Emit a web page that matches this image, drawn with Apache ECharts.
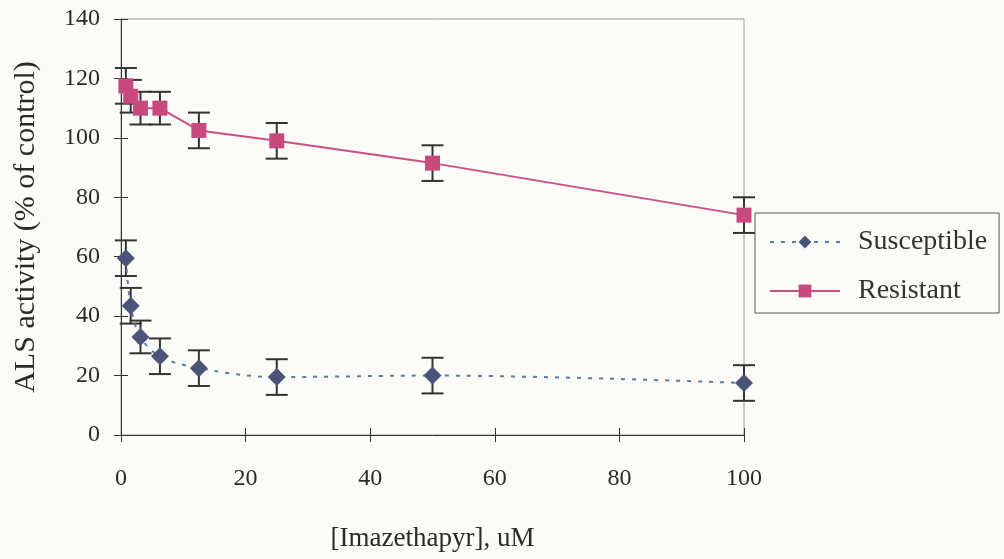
<!DOCTYPE html>
<html lang="en">
<head>
<meta charset="UTF-8">
<title>ALS activity</title>
<style>
	html, body { margin: 0; padding: 0; background: #fbfbf8; }
	#main { width: 1004px; height: 559px; }
</style>
</head>
<body>
<div id="main"></div>
<script src="https://cdn.jsdelivr.net/npm/echarts@6/dist/echarts.min.js"></script>
<script>
	// doses (uM)
	var doses = [0.78, 1.56, 3.125, 6.25, 12.5, 25, 50, 100];
	// % of control
	var susceptible = [59.5, 43.5, 33, 26.5, 22.5, 19.5, 20, 17.5];
	var susceptibleErr = [6, 6, 5.5, 6, 6, 6, 6, 6];
	var resistant = [117.5, 114, 110, 110, 102.5, 99, 91.5, 74];
	var resistantErr = [6, 5.5, 5.5, 5.5, 6, 6, 6, 6];
	var xTicks = [0, 20, 40, 60, 80, 100];
	var yTicks = [0, 20, 40, 60, 80, 100, 120, 140];

	var font = 'Liberation Serif';
	var myChart = echarts.init(document.getElementById('main'));

	function pairs(ys) {
		return doses.map(function (d, i) { return [d, ys[i]]; });
	}
	function errData(ys, es) {
		return doses.map(function (d, i) { return [d, ys[i] - es[i], ys[i] + es[i]]; });
	}
	// whisker with caps
	function renderErr(params, api) {
		var lo = api.coord([api.value(0), api.value(1)]);
		var hi = api.coord([api.value(0), api.value(2)]);
		var w = 11;
		var st = { stroke: '#333', lineWidth: 2 };
		return {
			type: 'group',
			children: [
				{ type: 'line', shape: { x1: lo[0], y1: lo[1], x2: hi[0], y2: hi[1] }, style: st },
				{ type: 'line', shape: { x1: lo[0] - w, y1: lo[1], x2: lo[0] + w, y2: lo[1] }, style: st },
				{ type: 'line', shape: { x1: hi[0] - w, y1: hi[1], x2: hi[0] + w, y2: hi[1] }, style: st }
			]
		};
	}

	var axisLabel = { fontFamily: font, fontSize: 24, color: '#2a2a2a' };
	var option = {
		backgroundColor: '#fbfbf8',
		animation: false,
		grid: {
			left: 121, right: 260, top: 19, bottom: 124,
			outerBoundsMode: 'none',
			show: true, borderColor: '#9a9a9a', borderWidth: 1
		},
		legend: {
			orient: 'vertical',
			left: 755, top: 213,
			padding: [15, 12, 8, 14],
			itemWidth: 70, itemHeight: 16,
			itemGap: 21,
			borderColor: '#555', borderWidth: 1,
			backgroundColor: '#fbfbf8',
			textStyle: { fontFamily: font, fontSize: 28, color: '#333', padding: [0, 0, 0, 13] },
			data: ['Susceptible', 'Resistant']
		},
		xAxis: [{
			type: 'value',
			min: xTicks[0], max: xTicks[xTicks.length - 1], interval: 20,
			name: '[Imazethapyr], uM',
			nameLocation: 'middle', nameGap: 90,
			nameTextStyle: { fontFamily: font, fontSize: 27, color: '#2a2a2a' },
			axisLine: { onZero: false, lineStyle: { color: '#333', width: 1 } },
			axisTick: { length: 7, lineStyle: { color: '#333' } },
			axisLabel: Object.assign({ margin: 32 }, axisLabel),
			splitLine: { show: false }
		}, {
			type: 'value', position: 'bottom',
			min: 0, max: 100, interval: 20,
			axisLine: { show: false },
			axisTick: { inside: true, length: 7, lineStyle: { color: '#333' } },
			axisLabel: { show: false },
			splitLine: { show: false }
		}],
		yAxis: [{
			type: 'value',
			min: yTicks[0], max: yTicks[yTicks.length - 1], interval: 20,
			name: 'ALS activity (% of control)',
			nameLocation: 'middle', nameGap: 80,
			nameTextStyle: { fontFamily: font, fontSize: 30, color: '#2a2a2a' },
			axisLine: { show: true, lineStyle: { color: '#333', width: 1 } },
			axisTick: { show: true, length: 7, lineStyle: { color: '#333' } },
			axisLabel: Object.assign({ margin: 21 }, axisLabel),
			splitLine: { show: false }
		}, {
			type: 'value', position: 'left',
			min: 0, max: 140, interval: 20,
			axisLine: { show: false },
			axisTick: { show: true, inside: true, length: 7, lineStyle: { color: '#333' } },
			axisLabel: { show: false },
			splitLine: { show: false }
		}],
		series: [{
			name: 'Susceptible',
			type: 'line',
			data: pairs(susceptible),
			smooth: 0.35,
			symbol: 'diamond',
			symbolSize: 18,
			itemStyle: { color: '#4b5478' },
			lineStyle: { color: '#5b7aa8', width: 2, type: [4, 7] },
			z: 4
		}, {
			name: 'Resistant',
			type: 'line',
			data: pairs(resistant),
			symbol: 'rect',
			symbolSize: 15,
			itemStyle: { color: '#c8497e' },
			lineStyle: { color: '#cc4f82', width: 2 },
			z: 4
		}, {
			type: 'custom',
			renderItem: renderErr,
			data: errData(susceptible, susceptibleErr),
			encode: { x: 0, y: [1, 2] },
			z: 3
		}, {
			type: 'custom',
			renderItem: renderErr,
			data: errData(resistant, resistantErr),
			encode: { x: 0, y: [1, 2] },
			z: 3
		}]
	};
	myChart.setOption(option);
</script>
</body>
</html>
